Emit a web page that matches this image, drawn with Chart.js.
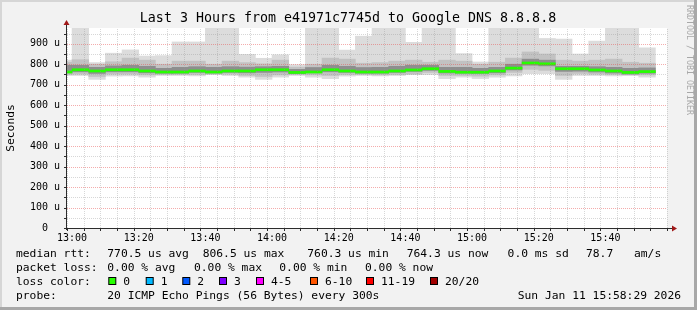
<!DOCTYPE html>
<html>
<head>
<meta charset="utf-8">
<script src="https://cdn.jsdelivr.net/npm/chart.js@4.4.1/dist/chart.umd.min.js"></script>
<style>
  html, body { margin: 0; padding: 0; background: #f2f2f2; }
  canvas { display: block; }
</style>
</head>
<body>
<canvas id="smoke" width="697" height="310"></canvas>
<script>
// 5 minute slots, start time of each slot
const slotStart = ['12:55', '13:00', '13:05', '13:10', '13:15', '13:20', '13:25', '13:30', '13:35',
  '13:40', '13:45', '13:50', '13:55', '14:00', '14:05', '14:10', '14:15', '14:20', '14:25', '14:30',
  '14:35', '14:40', '14:45', '14:50', '14:55', '15:00', '15:05', '15:10', '15:15', '15:20', '15:25',
  '15:30', '15:35', '15:40', '15:45', '15:50'];

// rtt in microseconds
const medianRtt = [762, 773, 767, 773, 773, 767, 762, 762, 767, 762, 767, 767, 773, 773, 760, 762, 773, 767,
  762, 762, 767, 772, 778, 765, 761, 761, 767, 781, 806, 802, 778, 778, 772, 767, 760, 764];
const maxRtt = [820, 990, 808, 854, 870, 840, 842, 909, 909, 990, 990, 848, 829, 846, 798, 990, 990, 869,
  937, 990, 990, 907, 990, 990, 852, 811, 990, 990, 990, 926, 923, 850, 913, 990, 990, 880];
const highRtt = [810, 822, 800, 812, 830, 820, 800, 815, 815, 800, 815, 808, 802, 820, 786, 800, 830, 825,
  805, 808, 815, 820, 810, 820, 815, 800, 810, 830, 860, 850, 820, 815, 820, 825, 810, 805];
const upperCore = [795, 795, 785, 792, 795, 790, 780, 785, 788, 785, 788, 786, 788, 790, 775, 784, 795, 790,
  784, 785, 790, 795, 795, 785, 785, 780, 785, 800, 825, 820, 790, 790, 788, 785, 780, 782];
const lowerCore = [758, 763, 755, 763, 763, 758, 756, 756, 760, 757, 760, 758, 760, 762, 754, 758, 763, 760,
  756, 756, 760, 765, 770, 757, 756, 755, 758, 772, 795, 792, 765, 766, 762, 757, 752, 756];
const lowRtt = [750, 752, 740, 752, 752, 748, 750, 750, 750, 752, 752, 745, 740, 748, 750, 748, 745, 750,
  750, 748, 750, 752, 760, 745, 745, 742, 748, 760, 775, 770, 745, 755, 752, 750, 748, 748];
const minRtt = [745, 745, 726, 742, 743, 737, 745, 745, 743, 749, 745, 737, 726, 737, 745, 737, 730, 742,
  745, 743, 745, 749, 749, 730, 737, 730, 737, 743, 754, 754, 726, 745, 745, 743, 745, 737];

const timeLabels = ['13:00', '13:20', '13:40', '14:00', '14:20', '14:40', '15:00', '15:20', '15:40'];
const yLabelValues = [0, 100, 200, 300, 400, 500, 600, 700, 800, 900];

const lossLabels = ['0', '1', '2', '3', '4-5', '6-10', '11-19', '20/20'];
const lossColors = ['#26ff00', '#00b8ff', '#0059ff', '#7e00ff', '#ff00ff', '#ff5500', '#ff0000', '#a10000'];

// minutes relative to 13:00
const toMin = s => { const [h, m] = s.split(':').map(Number); return (h - 13) * 60 + m; };
const viewStart = toMin('12:58') + 29 / 60;
const viewEnd = toMin('15:58') + 29 / 60;
const slotLen = 5;
const mid = slotStart.map(s => toMin(s) + slotLen / 2);

const band = (lo, hi) => mid.map((x, i) => ({ x: x, y: [lo[i], hi[i]] }));
const greenHalf = 5;

const MONO = '"DejaVu Sans Mono", "Liberation Mono", monospace';
const MINOR = 'rgba(150, 150, 150, 0.38)';
const MAJOR = 'rgba(230, 70, 70, 0.45)';

function barSet(data, color, order) {
  return {
    type: 'bar', data: data, backgroundColor: color, borderWidth: 0,
    grouped: false, barPercentage: 1, categoryPercentage: 1, order: order
  };
}

const decor = {
  id: 'decor',
  beforeDraw(chart) {
    const { ctx, chartArea: a } = chart;
    ctx.save();
    ctx.fillStyle = '#f2f2f2';
    ctx.fillRect(0, 0, chart.width, chart.height);
    ctx.fillStyle = '#ffffff';
    ctx.fillRect(a.left, a.top, a.right - a.left, a.bottom - a.top);
    ctx.restore();
  },
  afterDatasetsDraw(chart) {
    // dotted grid over the smoke, like rrdtool
    const { ctx, chartArea: a } = chart;
    const xs = chart.scales.x, ys = chart.scales.y;
    ctx.save();
    ctx.lineWidth = 1;
    ctx.setLineDash([1, 1]);
    xs.ticks.forEach(t => {
      const x = Math.round(xs.getPixelForValue(t.value)) + 0.5;
      ctx.strokeStyle = t.value % 20 === 0 ? MAJOR : MINOR;
      ctx.beginPath(); ctx.moveTo(x, a.bottom); ctx.lineTo(x, a.top); ctx.stroke();
    });
    ys.ticks.forEach(t => {
      if (t.value === 0) return;
      const y = Math.round(ys.getPixelForValue(t.value)) + 0.5;
      ctx.strokeStyle = t.value % 100 === 0 ? MAJOR : MINOR;
      ctx.beginPath(); ctx.moveTo(a.left, y); ctx.lineTo(a.right, y); ctx.stroke();
    });
    ctx.restore();
  },
  afterDraw(chart) {
    const { ctx, chartArea: a } = chart;
    const xs = chart.scales.x, ys = chart.scales.y;
    ctx.save();

    // axes
    ctx.strokeStyle = '#2c2c2c';
    ctx.lineWidth = 1;
    ctx.beginPath();
    ctx.moveTo(a.left - 0.5, a.bottom + 2);
    ctx.lineTo(a.left - 0.5, a.top - 4);
    ctx.moveTo(a.left - 3, a.bottom + 0.5);
    ctx.lineTo(a.right + 6, a.bottom + 0.5);
    ys.ticks.forEach(t => {
      const y = Math.round(ys.getPixelForValue(t.value)) + 0.5;
      ctx.moveTo(a.left - 3, y); ctx.lineTo(a.left, y);
    });
    xs.ticks.forEach(t => {
      const x = Math.round(xs.getPixelForValue(t.value)) + 0.5;
      ctx.moveTo(x, a.bottom); ctx.lineTo(x, a.bottom + 3);
    });
    ctx.stroke();

    // arrows
    ctx.fillStyle = '#a01818';
    ctx.beginPath();
    ctx.moveTo(a.left - 0.5, a.top - 8);
    ctx.lineTo(a.left - 3.5, a.top - 3);
    ctx.lineTo(a.left + 2.5, a.top - 3);
    ctx.closePath();
    ctx.fill();
    ctx.beginPath();
    ctx.moveTo(a.right + 10, a.bottom + 0.5);
    ctx.lineTo(a.right + 5, a.bottom - 2.5);
    ctx.lineTo(a.right + 5, a.bottom + 3.5);
    ctx.closePath();
    ctx.fill();

    // title
    ctx.fillStyle = '#000';
    ctx.textBaseline = 'middle';
    ctx.textAlign = 'center';
    ctx.font = '13.3px ' + MONO;
    ctx.fillText('Last 3 Hours from e41971c7745d to Google DNS 8.8.8.8', 348, 19);

    // tick labels
    ctx.font = '10px ' + MONO;
    timeLabels.forEach(l => ctx.fillText(l, xs.getPixelForValue(toMin(l)), 238));
    ctx.textAlign = 'right';
    yLabelValues.forEach(v => {
      ctx.fillText(v === 0 ? '0  ' : v + ' u', 60, ys.getPixelForValue(v));
    });

    // vertical axis title
    ctx.save();
    ctx.translate(11, 128);
    ctx.rotate(-Math.PI / 2);
    ctx.textAlign = 'center';
    ctx.font = '11.3px ' + MONO;
    ctx.fillText('Seconds', 0, 0);
    ctx.restore();

    // rrdtool watermark
    ctx.save();
    ctx.translate(689, 5);
    ctx.rotate(Math.PI / 2);
    ctx.textAlign = 'left';
    ctx.fillStyle = '#a8a8a8';
    ctx.font = '8.3px ' + MONO;
    ctx.fillText('RRDTOOL / TOBI OETIKER', 0, 0);
    ctx.restore();

    // legend
    ctx.font = '11.3px ' + MONO;
    ctx.textAlign = 'left';
    ctx.fillStyle = '#000';
    const rows = [
      [[16, 'median rtt:'], [107.3, '770.5 us avg'], [202.7, '806.5 us max'], [307.3, '760.3 us min'],
        [406.7, '764.3 us now'], [507.6, '0.0 ms sd'], [586, '78.7'], [634, 'am/s']],
      [[16, 'packet loss:'], [107.3, '0.00 % avg'], [194, '0.00 % max'], [279.3, '0.00 % min'], [365, '0.00 % now']],
      [[16, 'loss color:']],
      [[16, 'probe:'], [107.3, '20 ICMP Echo Pings (56 Bytes) every 300s']]
    ];
    const rowY = [254.5, 268.5, 282, 296];
    rows.forEach((r, i) => r.forEach(([x, t]) => ctx.fillText(t, x, rowY[i])));

    const boxX = [108.3, 145.7, 182.3, 219, 256, 310, 366, 430];
    lossLabels.forEach((l, i) => {
      ctx.fillStyle = lossColors[i];
      ctx.fillRect(boxX[i] + 0.5, rowY[2] - 4.5, 7, 7);
      ctx.strokeStyle = '#000';
      ctx.strokeRect(boxX[i] + 0.5, rowY[2] - 4.5, 7, 7);
      ctx.fillStyle = '#000';
      ctx.fillText(l, boxX[i] + 15, rowY[2]);
    });

    ctx.textAlign = 'right';
    ctx.fillText('Sun Jan 11 15:58:29 2026', 681, rowY[3]);

    // 3d frame
    ctx.fillStyle = '#d6d6d6';
    ctx.fillRect(0, 0, chart.width, 2);
    ctx.fillRect(0, 0, 2, chart.height);
    ctx.fillStyle = '#a8a8a8';
    ctx.fillRect(chart.width - 3, 0, 3, chart.height);
    ctx.fillRect(0, chart.height - 3, chart.width, 3);
    ctx.restore();
  }
};

new Chart(document.getElementById('smoke'), {
  type: 'bar',
  data: {
    datasets: [
      barSet(mid.map((x, i) => ({ x: x, y: [medianRtt[i] - greenHalf, medianRtt[i] + greenHalf] })), lossColors[0], 0),
      barSet(band(lowerCore, upperCore), '#8e8e8e', 1),
      barSet(band(lowRtt, highRtt), '#c2c2c2', 2),
      barSet(band(minRtt, maxRtt), '#dcdcdc', 3)
    ]
  },
  options: {
    responsive: false,
    animation: false,
    devicePixelRatio: 1,
    layout: { padding: { left: 67, right: 30, top: 28, bottom: 82 } },
    plugins: { legend: { display: false }, tooltip: { enabled: false } },
    scales: {
      x: {
        type: 'linear', min: viewStart, max: viewEnd, offset: false,
        ticks: { display: false, stepSize: 5, includeBounds: false, autoSkip: false },
        grid: { display: false, drawTicks: false },
        border: { display: false }
      },
      y: {
        min: 0, max: 977,
        ticks: { display: false, stepSize: 50, includeBounds: false, autoSkip: false },
        grid: { display: false, drawTicks: false },
        border: { display: false }
      }
    }
  },
  plugins: [decor]
});
</script>
</body>
</html>
